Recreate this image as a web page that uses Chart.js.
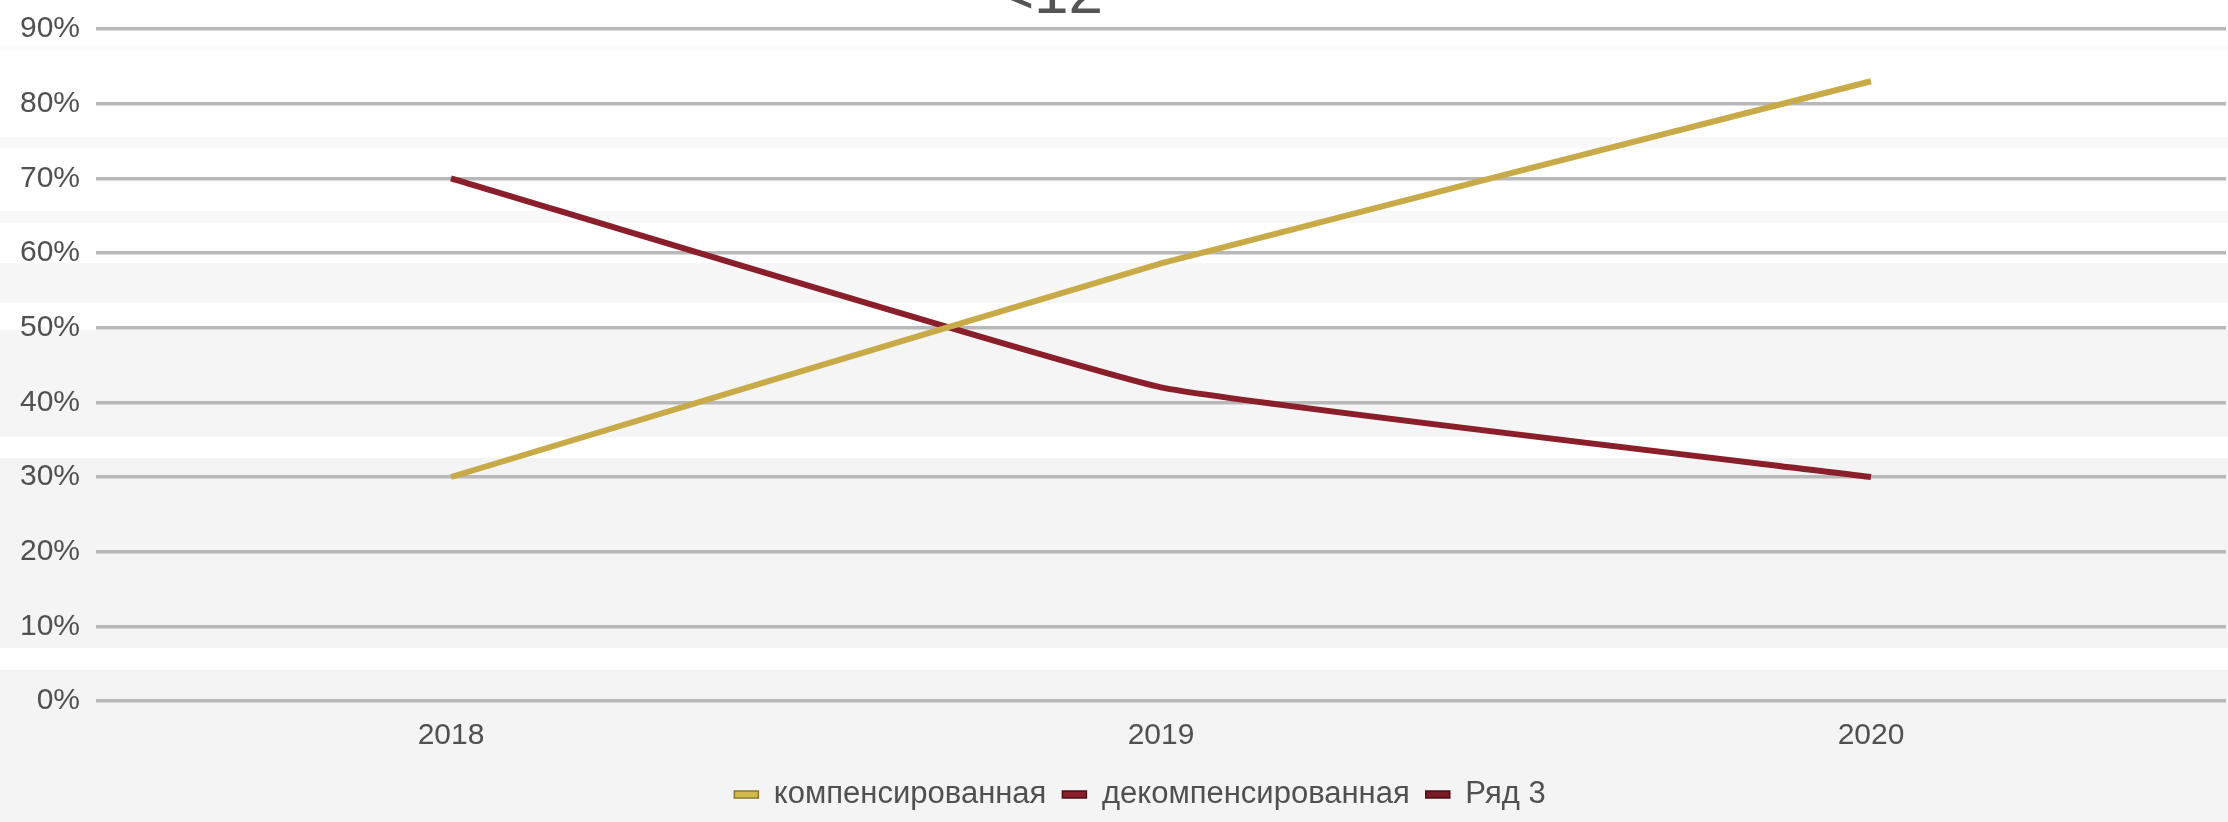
<!DOCTYPE html>
<html lang="ru">
<head>
<meta charset="utf-8">
<title>компенсированная / декомпенсированная</title>
<script src="https://cdn.jsdelivr.net/npm/chart.js@4/dist/chart.umd.min.js"></script>
<style>
  html, body { margin: 0; padding: 0; background: #ffffff; }
  #wrap { position: relative; width: 2228px; height: 822px; }
</style>
</head>
<body>
<div id="wrap"><canvas id="chart"></canvas></div>
<script>
// Years on the horizontal axis
const years = ['2018', '2019', '2020'];

// Shares per year, in percent
const compensated = [30, 58.6, 83];
const decompensated = [70, 42, 30];
const row3 = [null, null, null];

// Series names shown in the legend
const seriesNames = ['компенсированная', 'декомпенсированная', 'Ряд 3'];

// Heading fragment at the top edge
const headingText = '<12';

// Y axis range and step, percent
const yMin = 0;
const yMax = 90;
const yStep = 10;

const FONT = "'Liberation Sans', Arial, sans-serif";

// Soft horizontal banding behind the whole canvas
const bands = [
  [0, 45, '#ffffff'], [45, 50, '#fbfbfb'], [50, 137, '#ffffff'],
  [137, 148, '#f9f9f9'], [148, 211, '#ffffff'], [211, 223, '#f9f9f9'],
  [223, 263, '#ffffff'], [263, 303, '#f7f7f7'], [303, 330, '#fefefe'],
  [330, 437, '#f5f5f5'], [437, 458, '#ffffff'], [458, 648, '#f4f4f4'],
  [648, 670, '#ffffff'], [670, 822, '#f4f4f4']
];

const backdrop = {
  id: 'backdrop',
  beforeDraw(chart) {
    const ctx = chart.ctx;
    ctx.save();
    bands.forEach(([y0, y1, c]) => {
      ctx.fillStyle = c;
      ctx.fillRect(0, y0, chart.width, y1 - y0);
    });
    ctx.restore();
  }
};

const heading = {
  id: 'heading',
  afterDraw(chart) {
    const ctx = chart.ctx;
    ctx.save();
    ctx.font = "62px " + FONT;
    ctx.fillStyle = '#555555';
    ctx.textAlign = 'center';
    ctx.textBaseline = 'alphabetic';
    ctx.fillText(headingText, chart.width * 0.4715, 13);
    ctx.restore();
  }
};

// Nudge the legend row to the right of the canvas centre
const legendNudge = {
  id: 'legendNudge',
  afterLayout(chart) {
    const lg = chart.legend;
    if (lg) { lg.left += 27; lg.right += 27; }
  }
};

const legendStroke = ['#8a7a2a', '#4a1018', '#4a1018'];

new Chart(document.getElementById('chart'), {
  type: 'line',
  data: {
    labels: years,
    datasets: [
      {
        label: seriesNames[0],
        data: compensated,
        borderColor: '#c9aa48',
        backgroundColor: '#d2bb4e',
        borderWidth: 6,
        pointRadius: 0,
        tension: 0.08
      },
      {
        label: seriesNames[1],
        data: decompensated,
        borderColor: '#8a1e2b',
        backgroundColor: '#8a1e2b',
        borderWidth: 6,
        pointRadius: 0,
        tension: 0.1
      },
      {
        label: seriesNames[2],
        data: row3,
        borderColor: '#7a1a26',
        backgroundColor: '#7a1a26',
        borderWidth: 6,
        pointRadius: 0
      }
    ]
  },
  options: {
    responsive: true,
    maintainAspectRatio: false,
    animation: false,
    layout: { padding: { top: 29, right: 2, left: 0, bottom: 2 } },
    plugins: {
      title: { display: false },
      tooltip: { enabled: false },
      legend: {
        position: 'bottom',
        labels: {
          font: { family: FONT, size: 31 },
          color: '#505050',
          boxWidth: 24,
          boxHeight: 7,
          padding: 16,
          generateLabels(chart) {
            const base = Chart.defaults.plugins.legend.labels.generateLabels(chart);
            return base.map((item, i) => Object.assign(item, {
              lineWidth: 1.5,
              strokeStyle: legendStroke[i]
            }));
          }
        }
      }
    },
    scales: {
      x: {
        offset: true,
        grid: { display: false },
        border: { display: false },
        ticks: {
          font: { family: FONT, size: 30 },
          color: '#505050',
          padding: 9
        }
      },
      y: {
        min: yMin,
        max: yMax,
        border: { display: false },
        grid: { color: '#b8b8b8', lineWidth: 3.5, drawTicks: false },
        afterFit(scale) {
          scale.width = 96;
          scale.paddingTop = 10;
          scale.paddingBottom = 10;
        },
        ticks: {
          stepSize: yStep,
          padding: 16,
          font: { family: FONT, size: 30 },
          color: '#505050',
          callback: v => v + '%'
        }
      }
    }
  },
  plugins: [backdrop, heading, legendNudge]
});
</script>
</body>
</html>
